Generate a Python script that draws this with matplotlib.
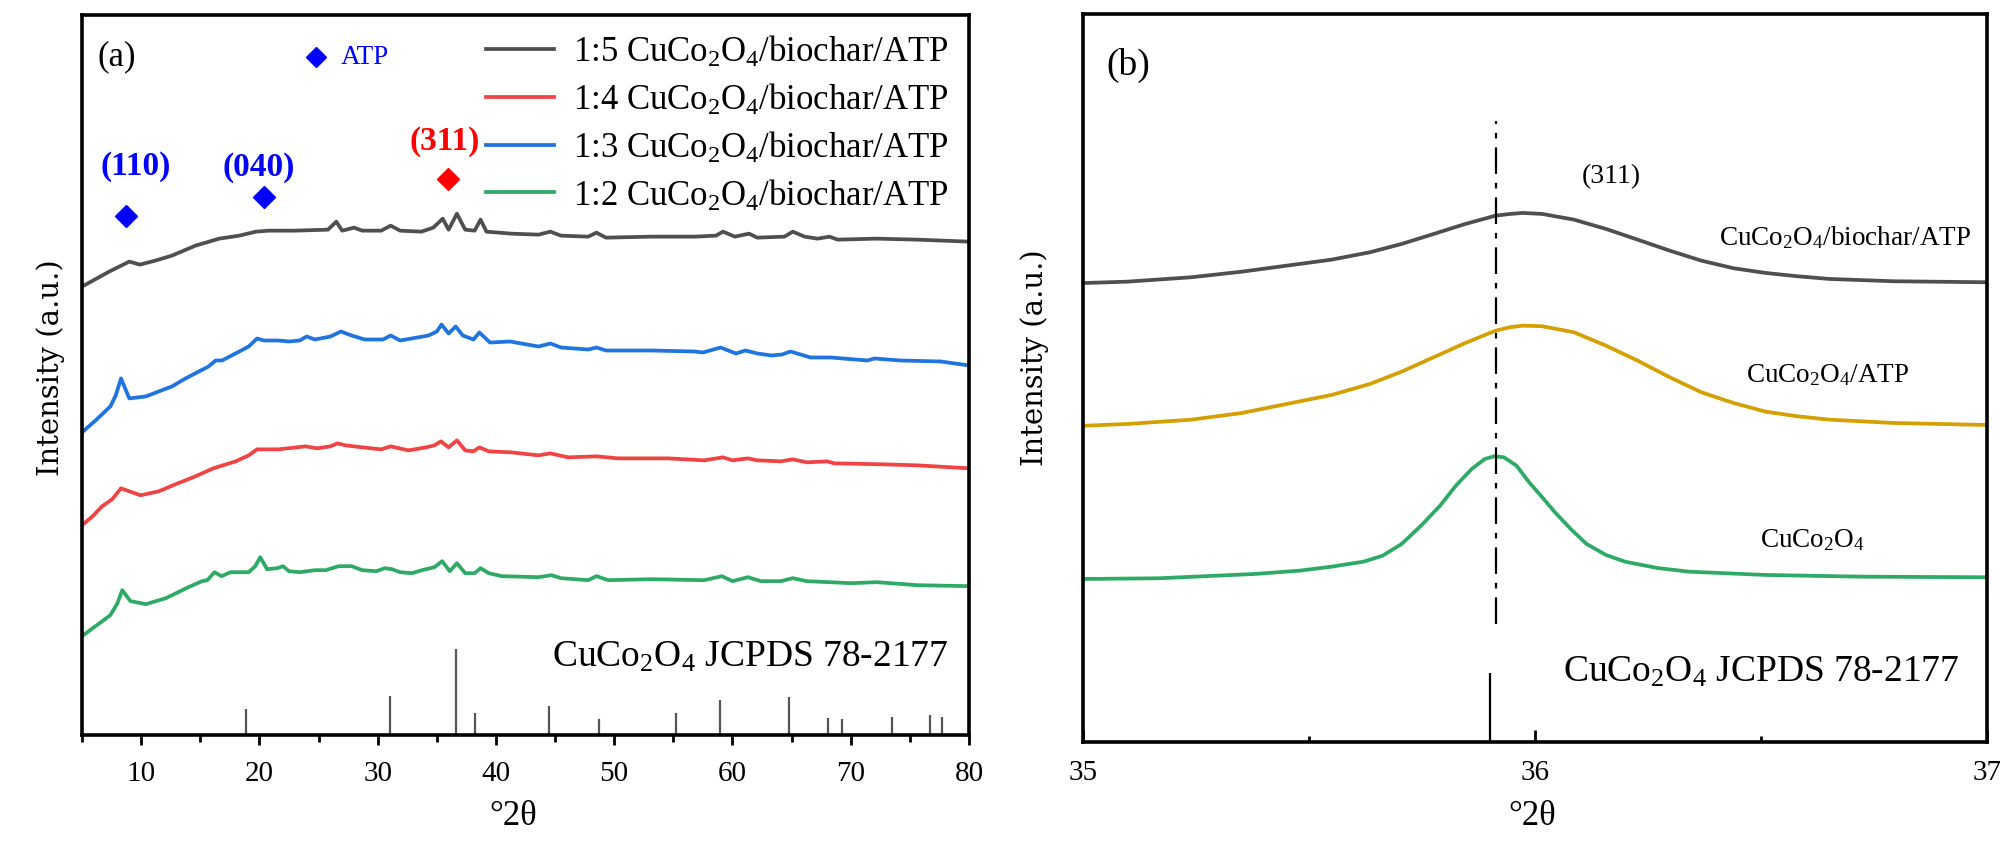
import matplotlib
matplotlib.use('Agg')
import matplotlib.pyplot as plt
import numpy as np

plt.rcParams['font.family'] = ['Liberation Serif', 'DejaVu Serif']
plt.rcParams['mathtext.fontset'] = 'custom'
plt.rcParams['mathtext.rm'] = 'Liberation Serif'
plt.rcParams['mathtext.it'] = 'Liberation Serif:italic'
plt.rcParams['mathtext.bf'] = 'Liberation Serif:bold'

# ---------------- Panel (a) data: 2theta (deg) and intensity (a.u., offset) ----------------
x_15 = [5, 7.3, 9.0, 9.9, 11.2, 12.6, 14.6, 16.6, 18.3, 19.7, 20.8, 23.0, 25.8, 26.5, 27.0,
        28.0, 28.7, 30.3, 31.1, 31.9, 33.7, 34.7, 35.5, 36.0, 36.7, 37.4, 38.2, 38.7, 39.2,
        41.3, 43.6, 44.6, 45.5, 47.8, 48.5, 49.3, 53.1, 56.8, 58.6, 59.2, 60.2, 61.4, 62.1,
        64.4, 65.1, 66.1, 67.2, 68.2, 68.9, 72.2, 75.6, 80]
y_15 = [449, 464, 474, 471, 475, 480, 490, 497, 500, 504, 505, 505, 506, 514, 505,
        508, 505, 505, 510, 505, 504, 508, 517, 506, 522, 506, 505, 516, 504,
        502, 501, 504, 500, 499, 503, 498, 499, 499, 500, 504, 499, 502, 498,
        499, 504, 499, 497, 499, 496, 497, 496, 494]

x_13 = [5, 6.15, 7.4, 7.85, 8.3, 9.0, 10.4, 12.6, 13.75, 15.7, 16.3, 16.85, 19.1, 19.8, 20.4,
        21.6, 22.5, 23.4, 24.0, 24.7, 26.0, 26.9, 27.8, 28.9, 30.45, 31.1, 31.9, 34.3, 35.0,
        35.4, 36.0, 36.6, 37.2, 38.1, 38.6, 39.5, 41.2, 43.6, 44.6, 45.5, 47.8, 48.5, 49.3,
        53.1, 56.8, 57.5, 59.0, 60.3, 61.1, 62.1, 63.3, 64.2, 64.9, 66.6, 68.3, 71.4, 72.0,
        74.2, 77.6, 80]
y_13 = [303, 315, 329, 340, 357, 337, 339, 349, 357, 369, 375, 375, 389, 397, 395,
        395, 394, 395, 399, 396, 399, 404, 400, 396, 396, 400, 395, 400, 404,
        411, 402, 409, 400, 396, 403, 393, 394, 389, 392, 388, 386, 388, 385,
        385, 384, 383, 388, 382, 385, 382, 380, 381, 384, 378, 378, 375, 377,
        375, 374, 370]

x_14 = [5, 5.9, 6.7, 7.55, 8.3, 9.0, 9.95, 11.5, 12.9, 14.6, 16.1, 18.0, 19.1, 19.8, 21.6,
        23.9, 24.9, 26.0, 26.6, 27.3, 28.7, 30.3, 31.1, 32.6, 34.1, 34.8, 35.35, 36.0, 36.7,
        37.4, 38.1, 38.6, 39.4, 41.3, 43.6, 44.6, 46.1, 48.5, 50.3, 54.5, 57.6, 59.2, 60.0,
        61.3, 62.1, 64.1, 65.1, 66.3, 68.0, 68.6, 72.8, 75.6, 80]
y_14 = [210, 219, 229, 236, 247, 244, 240, 244, 251, 259, 267, 274, 280, 286, 286,
        289, 287, 289, 292, 290, 288, 286, 289, 285, 288, 290, 294, 288, 295,
        285, 284, 288, 284, 283, 280, 282, 278, 279, 277, 277, 275, 278, 275,
        277, 275, 274, 276, 273, 274, 272, 271, 270, 267]

x_12 = [5, 6.15, 7.4, 8.0, 8.4, 9.1, 10.4, 12.1, 14.0, 15.15, 15.6, 16.2, 16.8, 17.55, 19.1,
        19.65, 20.07, 20.65, 21.5, 22.0, 22.5, 23.4, 24.7, 25.6, 26.7, 27.8, 28.7, 29.9, 30.6,
        31.2, 31.9, 32.9, 33.75, 34.8, 35.45, 36.1, 36.7, 37.4, 38.2, 38.7, 39.4, 40.5, 43.6,
        44.7, 45.5, 47.8, 48.5, 49.5, 53.1, 57.6, 59.1, 60.0, 61.3, 62.4, 64.1, 65.1, 66.3,
        70.0, 72.2, 75.6, 80]
y_12 = [99, 109, 120, 132, 145, 134, 131, 137, 148, 154, 155, 163, 159, 163, 163,
        169, 178, 166, 167, 169, 164, 163, 165, 165, 169, 169, 165, 164, 167,
        166, 163, 162, 165, 168, 174, 164, 172, 162, 162, 167, 162, 159, 158,
        160, 157, 155, 159, 155, 156, 155, 159, 154, 158, 154, 154, 157, 154,
        152, 153, 150, 149]

series_labels = [r'1:5 CuCo$_2$O$_4$/biochar/ATP', r'1:4 CuCo$_2$O$_4$/biochar/ATP',
                 r'1:3 CuCo$_2$O$_4$/biochar/ATP', r'1:2 CuCo$_2$O$_4$/biochar/ATP']

# JCPDS 78-2177 reference lines (2theta, relative intensity)
jcpds_pos = [18.85, 31.04, 36.59, 38.26, 44.46, 48.72, 55.25, 58.92, 64.80, 68.08, 69.22,
             73.53, 76.71, 77.73]
jcpds_int = [30, 45, 100, 26, 34, 19, 26, 41, 44, 20, 19, 21, 23, 21]

# peak markers
atp_peak_x = [8.74, 20.36]
atp_peak_y = [520, 539]
atp_labels = ['(110)', '(040)']
atp_label_x = [9.5, 19.9]
atp_label_y = [570, 569]
spinel_peak_x = [35.96]
spinel_peak_y = [557]
spinel_label = '(311)'
spinel_label_xy = (35.7, 595)

# ---------------- Panel (b) data ----------------
tb_gray = [35.007, 35.099, 35.240, 35.352, 35.451, 35.55, 35.635, 35.705, 35.776, 35.846,
           35.913, 35.945, 35.973, 36.016, 36.086, 36.157, 36.227, 36.298, 36.368, 36.439,
           36.51, 36.58, 36.651, 36.792, 36.996]
yb_gray = [461, 462.3, 466.7, 472.3, 478.3, 484.3, 491.7, 500, 510, 520,
           528.3, 530, 531, 530, 524.3, 515, 504.3, 493.3, 483.3, 475.7,
           471, 467.7, 465, 462.7, 461.7]
yb_gold = [318.3, 320, 324.3, 331, 340, 349, 360, 372.3, 386.7, 401,
           413.3, 416.7, 418.3, 417.7, 411.7, 398.3, 383.3, 366.7, 351.7, 341,
           332.3, 327.7, 324.3, 321, 319]
tb_green = [35.007, 35.169, 35.381, 35.479, 35.55, 35.621, 35.663, 35.705, 35.748, 35.79,
            35.825, 35.86, 35.889, 35.91, 35.931, 35.959, 35.987, 36.016, 36.044, 36.079,
            36.114, 36.157, 36.199, 36.27, 36.34, 36.51, 36.721, 36.996]
yb_green = [165, 165.7, 170, 173.3, 177.3, 182.3, 188.3, 200, 218.3, 238.3,
            258.3, 275, 285, 287.7, 286.7, 278.3, 261.7, 246.7, 231.7, 215,
            200, 189, 182.3, 176, 172.3, 169, 167.3, 166.7]
jcpds_b_pos = [35.9]
jcpds_b_int = [100]
ref_line_x = 35.913
ref_line_span = (120, 623)

# ---------------- colours ----------------
c_gray = '#4f4f4f'
c_red = '#f04343'
c_blue = '#1f74e0'
c_green = '#2eaa66'
c_gold = '#d4a000'

fig = plt.figure(figsize=(20, 8.53), dpi=100)
axa = fig.add_axes([0.041, 0.1372, 0.4435, 0.8441])
axb = fig.add_axes([0.5415, 0.129, 0.452, 0.8535])

lw = 2.7
axa.plot(x_15, y_15, color=c_gray, lw=lw, label=series_labels[0])
axa.plot(x_14, y_14, color=c_red, lw=lw, label=series_labels[1])
axa.plot(x_13, y_13, color=c_blue, lw=lw, label=series_labels[2])
axa.plot(x_12, y_12, color=c_green, lw=lw, label=series_labels[3])

axa.vlines(jcpds_pos, 0, np.array(jcpds_int) * 0.86, color='#555555', lw=1.6)

axa.plot(atp_peak_x, atp_peak_y, 'D', color='#0000ff', ms=11, ls='none')
for t, xx, yy in zip(atp_labels, atp_label_x, atp_label_y):
    axa.text(xx, yy, t, color='#0000ff', fontsize=24, fontweight='bold', ha='center', va='center')
axa.plot(spinel_peak_x, spinel_peak_y, 'D', color='#ff0000', ms=11, ls='none')
axa.text(spinel_label_xy[0], spinel_label_xy[1], spinel_label, color='#ff0000', fontsize=24,
         fontweight='bold', ha='center', va='center')
# ATP key
axa.plot([24.75], [679], 'D', color='#0000ff', ms=10)
axa.text(26.9, 679, 'ATP', color='#0000ff', fontsize=19.5, ha='left', va='center')

axa.text(0.039, 0.943, '(a)', transform=axa.transAxes, fontsize=25, ha='center', va='center')
axa.text(0.977, 0.0957, r'CuCo$_2$O$_4$ JCPDS 78-2177', transform=axa.transAxes,
         fontsize=27, ha='right', va='baseline')

axa.legend(loc='upper right', bbox_to_anchor=(0.977, 0.974), frameon=False, fontsize=25,
           handlelength=1.95, handletextpad=0.55, labelspacing=0.37, borderaxespad=0,
           borderpad=0)

axa.set_xlim(5, 80)
axa.set_ylim(0, 721)
axa.set_xticks(range(10, 81, 10))
axa.set_xticks(range(5, 80, 10), minor=True)
axa.set_yticks([])
axa.tick_params(axis='x', which='major', direction='out', length=7, width=2, labelsize=21, pad=11)
axa.tick_params(axis='x', which='minor', direction='out', length=5, width=2)

# ---------------- panel (b) ----------------
axb.plot(tb_gray, yb_gray, color=c_gray, lw=lw)
axb.plot(tb_gray, yb_gold, color=c_gold, lw=lw)
axb.plot(tb_green, yb_green, color=c_green, lw=lw)
axb.vlines(jcpds_b_pos, 2, 2 + np.array(jcpds_b_int) * 0.69, color='black', lw=1.6)
axb.plot([ref_line_x, ref_line_x], ref_line_span, color='black', lw=1.6,
         dashes=(12, 4, 2.5, 4))

axb.text(0.0498, 0.931, '(b)', transform=axb.transAxes, fontsize=27, ha='center', va='center')
axb.text(0.584, 0.7775, '(311)', transform=axb.transAxes, fontsize=20, ha='center', va='center')
axb.text(0.7035, 0.694, r'CuCo$_2$O$_4$/biochar/ATP', transform=axb.transAxes, fontsize=19.5,
         ha='left', va='center')
axb.text(0.7334, 0.5055, r'CuCo$_2$O$_4$/ATP', transform=axb.transAxes, fontsize=19.5,
         ha='left', va='center')
axb.text(0.749, 0.279, r'CuCo$_2$O$_4$', transform=axb.transAxes, fontsize=19.5,
         ha='left', va='center')
axb.text(0.970, 0.0838, r'CuCo$_2$O$_4$ JCPDS 78-2177', transform=axb.transAxes,
         fontsize=27, ha='right', va='baseline')

axb.set_xlim(35, 37)
axb.set_ylim(2, 730)
axb.set_xticks([35, 36, 37])
axb.set_xticks([35.5, 36.5], minor=True)
axb.set_yticks([])
axb.tick_params(axis='x', which='major', direction='in', length=9, width=2, labelsize=21, pad=12)
axb.tick_params(axis='x', which='minor', direction='in', length=4, width=2)

for ax in (axa, axb):
    for s in ax.spines.values():
        s.set_linewidth(2.6)

fig.text(51 / 2000, 1 - 368 / 853, 'Intensity (a.u.)', rotation=90, family='DejaVu Serif',
         fontsize=21, ha='center', va='center')
fig.text(1035 / 2000, 1 - 358 / 853, 'Intensity (a.u.)', rotation=90, family='DejaVu Serif',
         fontsize=21, ha='center', va='center')
fig.text(513 / 2000, 1 - 817 / 853, '°2θ', fontsize=25, ha='center', va='center')
fig.text(1532 / 2000, 1 - 817 / 853, '°2θ', fontsize=25, ha='center', va='center')

fig.savefig('out.png', dpi=100)
